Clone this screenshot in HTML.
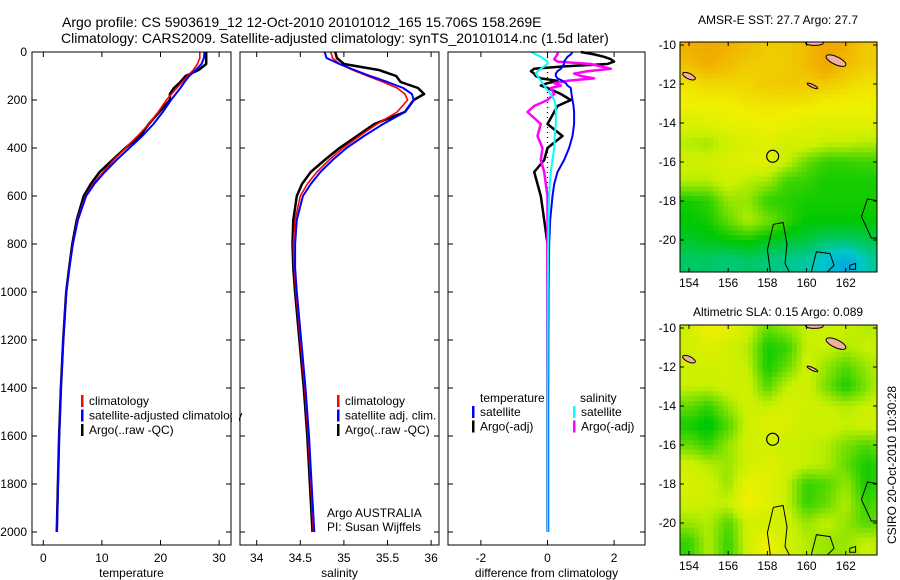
<!DOCTYPE html>
<html><head><meta charset="utf-8"><style>
body{margin:0;background:#fff;}
svg{display:block;font-family:"Liberation Sans",sans-serif;}
</style></head><body>
<svg id="fig" width="900" height="580" viewBox="0 0 900 580">
<text x="62" y="27" font-size="14">Argo profile: CS 5903619_12 12-Oct-2010 20101012_165 15.706S 158.269E</text>
<text x="61" y="43" font-size="14">Climatology: CARS2009. Satellite-adjusted climatology: synTS_20101014.nc (1.5d later)</text>
<text x="778" y="24" font-size="12" text-anchor="middle">AMSR-E SST: 27.7 Argo: 27.7</text>
<text x="778" y="316" font-size="12" text-anchor="middle">Altimetric SLA: 0.15 Argo: 0.089</text>
<text x="0" y="0" font-size="12" text-anchor="middle" transform="translate(896,465) rotate(-90)">CSIRO 20-Oct-2010 10:30:28</text>
</svg>
<script>
// ---- profile data ----
const depths = [0,25,50,75,100,125,150,175,200,250,300,350,400,450,500,550,600,700,800,900,1000,1200,1400,1600,1800,2000];
const tempClim = [26.7,26.7,26.3,25.6,24.6,23.7,22.8,21.9,21.0,19.6,18.0,16.1,14.0,12.0,10.2,8.5,7.2,5.8,5.0,4.4,3.9,3.4,3.0,2.7,2.5,2.3];
const tempSat = [27.5,27.4,27.0,26.0,24.9,24.1,23.4,22.6,21.8,20.4,18.8,16.9,14.7,12.5,10.5,8.7,7.3,5.9,5.05,4.45,3.92,3.42,3.02,2.72,2.52,2.32];
const tempArgo = [27.8,27.8,27.8,26.5,24.3,23.4,22.3,21.6,21.6,19.8,18.0,16.5,14.0,11.8,9.6,8.1,6.9,5.7,4.95,4.4,3.9,3.4,3.0,2.7,2.5,2.3];
const salClim = [34.85,34.87,34.95,35.1,35.27,35.45,35.61,35.70,35.73,35.61,35.38,35.18,34.99,34.83,34.69,34.58,34.50,34.44,34.42,34.43,34.45,34.50,34.55,34.59,34.62,34.65];
const salSat = [34.78,34.80,34.95,35.12,35.3,35.5,35.68,35.78,35.80,35.70,35.45,35.23,35.03,34.87,34.73,34.62,34.53,34.46,34.44,34.44,34.46,34.51,34.56,34.6,34.63,34.66];
const salArgo = [34.9,34.92,35.0,35.4,35.6,35.65,35.85,35.92,35.8,35.7,35.35,35.15,34.95,34.78,34.62,34.52,34.46,34.42,34.41,34.42,34.44,34.49,34.54,34.58,34.61,34.64];
const diffDepths = [0,10,20,30,40,50,60,70,80,90,100,110,120,130,140,150,175,200,225,250,300,350,400,450,500,550,600,700,800,1000,1500,2000];
const diffTempSat = [0.75,0.7,0.6,0.55,0.5,0.5,0.45,0.4,0.3,0.25,0.25,0.3,0.45,0.55,0.6,0.7,0.72,0.75,0.78,0.8,0.8,0.75,0.65,0.5,0.3,0.2,0.15,0.08,0.05,0.03,0.02,0.02];
const diffTempArgo = [1.0,1.4,1.7,1.9,2.0,1.8,0.5,-0.4,-0.5,-0.4,-0.35,-0.2,0.3,0.0,-0.2,0.0,0.4,0.7,0.3,0.2,0.0,0.45,0.0,-0.1,-0.4,-0.3,-0.2,-0.1,0.0,0.0,0.0,0.0];
const diffSalSat = [-0.5,-0.35,-0.2,-0.1,0.0,0.0,-0.1,-0.2,-0.3,-0.35,-0.3,-0.25,-0.2,-0.15,-0.1,-0.05,0.1,0.2,0.25,0.25,0.25,0.22,0.2,0.15,0.1,0.07,0.05,0.03,0.02,0.01,0.0,0.0];
const diffSalArgo = [0.3,0.3,0.25,0.2,0.3,1.3,1.6,1.9,1.2,0.8,1.0,1.4,0.6,0.2,0.4,0.1,0.2,0.0,-0.4,-0.6,-0.2,-0.3,-0.15,-0.2,-0.1,-0.05,0.0,0.0,0.0,0.0,0.0,0.0];
const depthTicks = [0,200,400,600,800,1000,1200,1400,1600,1800,2000];
const tempTicks = [0,10,20,30];
const salTicks = [34,34.5,35,35.5,36];
const diffTicks = [-2,0,2];
// ---- map data (rows lat -10..-21, cols lon 154..164) ----
const mapLats = [-10,-11,-12,-13,-14,-15,-16,-17,-18,-19,-20,-21];
const mapLons = [154,155,156,157,158,159,160,161,162,163,164];
const sstGrid = [
[.80,.82,.80,.78,.76,.76,.78,.82,.80,.76,.76],
[.78,.80,.78,.76,.75,.76,.78,.82,.78,.76,.75],
[.72,.74,.74,.74,.76,.76,.76,.76,.74,.72,.72],
[.70,.70,.70,.72,.72,.72,.72,.70,.70,.70,.70],
[.64,.66,.68,.68,.70,.68,.66,.66,.66,.66,.66],
[.58,.56,.62,.64,.66,.62,.64,.60,.60,.58,.58],
[.62,.62,.64,.66,.66,.60,.50,.45,.45,.46,.46],
[.58,.58,.62,.58,.56,.46,.45,.42,.42,.42,.42],
[.42,.44,.55,.55,.45,.44,.42,.42,.42,.42,.42],
[.40,.42,.50,.58,.52,.45,.40,.40,.40,.40,.40],
[.36,.38,.40,.42,.38,.36,.34,.30,.30,.32,.34],
[.30,.30,.28,.30,.28,.26,.24,.18,.12,.22,.28]];
const slaGrid = [
[.62,.70,.68,.62,.50,.55,.60,.62,.60,.58,.58],
[.62,.65,.62,.58,.42,.45,.60,.60,.58,.60,.60],
[.62,.62,.62,.60,.42,.50,.62,.55,.48,.55,.60],
[.60,.60,.62,.62,.48,.60,.62,.52,.42,.52,.62],
[.50,.45,.55,.62,.60,.64,.62,.60,.58,.60,.62],
[.42,.38,.48,.62,.66,.64,.60,.62,.60,.62,.62],
[.50,.45,.55,.62,.62,.60,.60,.58,.52,.48,.52],
[.62,.58,.55,.62,.66,.62,.60,.58,.50,.42,.45],
[.64,.62,.55,.68,.66,.60,.45,.48,.55,.42,.45],
[.62,.60,.60,.70,.66,.60,.45,.50,.58,.45,.50],
[.55,.58,.48,.62,.62,.62,.55,.60,.55,.48,.52],
[.45,.58,.45,.62,.70,.62,.58,.55,.55,.60,.58]];
const lonTicks = [154,156,158,160,162];
const latTicks = [-10,-12,-14,-16,-18,-20];
const argoLon = 158.269, argoLat = -15.706;

const NS='http://www.w3.org/2000/svg';
const svg=document.getElementById('fig');
function mk(tag,attrs,parent){const e=document.createElementNS(NS,tag);for(const k in attrs)e.setAttribute(k,attrs[k]);(parent||svg).appendChild(e);return e;}
const yD = d => 52 + d*0.24;
const PB = 545;

function panel(name,x0,x1,xs,ticks,fmt,label,showY){
  const g=mk('g',{});
  
  
  ticks.forEach(t=>{
    const x=xs(t);
    mk('line',{x1:x,x2:x,y1:52,y2:57,stroke:'#000'},g);
    mk('line',{x1:x,x2:x,y1:PB,y2:PB-5,stroke:'#000'},g);
    const tl=mk('text',{x:x,y:562,'font-size':12,'text-anchor':'middle'},g);
    tl.textContent=fmt(t);
    
    
  });
  depthTicks.forEach(d=>{
    const y=yD(d);
    mk('line',{x1:x0,x2:x0+5,y1:y,y2:y,stroke:'#000'},g);
    mk('line',{x1:x1,x2:x1-5,y1:y,y2:y,stroke:'#000'},g);
    if(showY){const tl=mk('text',{x:27,y:y+4,'font-size':12,'text-anchor':'end'},g);tl.textContent=d;
      
      }
  });
  const at=mk('text',{x:(x0+x1)/2,y:577,'font-size':12,'text-anchor':'middle'},g);
  at.textContent=label;
  
  
  return g;
}
function line(g,ds,vals,xs,color,w,name){
  const p=vals.map((v,i)=>(i?'L':'M')+xs(v).toFixed(1)+','+yD(ds[i]).toFixed(1)).join('');
  const e=mk('path',{d:p,fill:'none',stroke:color,'stroke-width':w,'stroke-linejoin':'round'},g);
  
  
}
function frame(g,x0,x1){mk('rect',{x:x0,y:52,width:x1-x0,height:PB-52,fill:'none',stroke:'#000','stroke-width':1},g);}
function legend(g,x,y,items){
  items.forEach((it,i)=>{
    const yy=y+i*14.5;
    mk('rect',{x:x,y:yy-10,width:2.5,height:12,fill:it[1]},g);
    const t=mk('text',{x:x+8,y:yy,'font-size':12},g);t.textContent=it[0];
    
    
  });
}
// Panel 1 temperature
const xT=v=>43.3+v*5.86;
let g1=panel('temperature-panel',32,231,xT,tempTicks,t=>t,'temperature',true);
line(g1,depths,tempArgo,xT,'#000',2.5,'argo-temperature-line');
line(g1,depths,tempClim,xT,'#f00',1.6,'climatology-temperature-line');
line(g1,depths,tempSat,xT,'#00f',2,'satellite-temperature-line');
frame(g1,32,231);
legend(g1,81,405,[['climatology','#f00'],['satellite-adjusted climatology','#00f'],['Argo(..raw -QC)','#000']]);
mk('rect',{x:232,y:380,width:7,height:50,fill:'#fff'});
// Panel 2 salinity
const xS=v=>256.7+(v-34)*87.2;
let g2=panel('salinity-panel',240,439,xS,salTicks,t=>t,'salinity',false);
line(g2,depths,salArgo,xS,'#000',2.5,'argo-salinity-line');
line(g2,depths,salClim,xS,'#f00',1.6,'climatology-salinity-line');
line(g2,depths,salSat,xS,'#00f',2,'satellite-salinity-line');
frame(g2,240,439);
legend(g2,337,405,[['climatology','#f00'],['satellite adj. clim.','#00f'],['Argo(..raw -QC)','#000']]);
const ta=mk('text',{x:327,y:517,'font-size':12},g2);ta.textContent='Argo AUSTRALIA';
const tp=mk('text',{x:327,y:531,'font-size':12},g2);tp.textContent='PI: Susan Wijffels';
// Panel 3 difference
const xDf=v=>547.5+v*33.3;
let g3=panel('difference-panel',448,645,xDf,diffTicks,t=>t,'difference from climatology',false);
mk('line',{x1:xDf(0),x2:xDf(0),y1:52,y2:500,stroke:'#000','stroke-width':1.2,'stroke-dasharray':'1,4'},g3);
line(g3,diffDepths,diffTempArgo,xDf,'#000',2.5,'argo-temperature-diff-line');
line(g3,diffDepths,diffSalArgo,xDf,'#f0f',2.5,'argo-salinity-diff-line');
line(g3,diffDepths,diffTempSat,xDf,'#00f',2,'satellite-temperature-diff-line');
line(g3,diffDepths,diffSalSat,xDf,'#0ff',2,'satellite-salinity-diff-line');
frame(g3,448,645);
const lt=mk('text',{x:480,y:402,'font-size':12},g3);lt.textContent='temperature';
const ls=mk('text',{x:580,y:402,'font-size':12},g3);ls.textContent='salinity';
legend(g3,472,416,[['satellite','#00f'],['Argo(-adj)','#000']]);
legend(g3,573,416,[['satellite','#0ff'],['Argo(-adj)','#f0f']]);

// ---- maps ----
const stops=[[0,[0,128,255]],[0.2,[0,200,200]],[0.4,[0,200,0]],[0.6,[200,240,0]],[0.7,[240,240,0]],[0.8,[240,176,0]],[0.9,[240,128,0]],[1,[192,0,0]]];
function cmap(v){for(let i=1;i<stops.length;i++){if(v<=stops[i][0]){const a=stops[i-1],b=stops[i],f=(v-a[0])/(b[0]-a[0]);const c=a[1].map((x,k)=>Math.round(x+(b[1][k]-x)*f));return 'rgb('+c.join(',')+')';}}return 'rgb(192,0,0)';}
function sample(grid,fr,fc){
  fr=Math.max(0,Math.min(grid.length-1,fr));fc=Math.max(0,Math.min(grid[0].length-1,fc));
  const r0=Math.floor(fr),c0=Math.floor(fc),r1=Math.min(r0+1,grid.length-1),c1=Math.min(c0+1,grid[0].length-1);
  const a=fr-r0,b=fc-c0;
  return grid[r0][c0]*(1-a)*(1-b)+grid[r0][c1]*(1-a)*b+grid[r1][c0]*a*(1-b)+grid[r1][c1]*a*b;
}
function drawMap(name,top,grid){
  const L=680,R=877,T=top,B=top+230;
  const lat10y=top+3;
  const xL=lon=>689+(lon-154)*19.6;
  const yL=lat=>lat10y+(-10-lat)*19.5;
  const g=mk('g',{});
  
  
  const cid='clip'+top;
  const cp=mk('clipPath',{id:cid},g);mk('rect',{x:L,y:T,width:R-L,height:B-T},cp);
  const cg=mk('g',{'clip-path':'url(#'+cid+')'},g);
  const step=0.25;
  for(let lat=-9.75;lat>-22;lat-=step){
    for(let lon=153.5;lon<164;lon+=step){
      const fr=(mapLats[0]-(lat-step/2));const fc=(lon+step/2-mapLons[0]);
      const v=sample(grid,fr,fc);
      mk('rect',{x:xL(lon).toFixed(1),y:yL(lat).toFixed(1),width:19.6*step+0.6,height:19.5*step+0.6,fill:cmap(v)},cg);
    }
  }
  // islands
  [[161.5,-10.8,0.55,0.2,25],[160.4,-9.9,0.45,0.12,0],[154.0,-11.6,0.35,0.14,25],[160.3,-12.1,0.3,0.07,25]].forEach(s=>{
    mk('ellipse',{cx:xL(s[0]),cy:yL(s[1]),rx:s[2]*19.6,ry:s[3]*19.5,fill:'#f0b0a0',stroke:'#000','stroke-width':1,transform:'rotate('+s[4]+' '+xL(s[0])+' '+yL(s[1])+')'},cg);
  });
  // bathymetry contours
  const contours=[[[158.2,-22],[158.0,-20.5],[158.3,-19.2],[158.8,-19.1],[159.0,-20.2],[158.9,-21.2],[159.3,-22]],
    [[160.2,-21.8],[160.5,-20.6],[161.2,-20.7],[161.4,-21.3],[161.0,-21.7]],
    [[163.7,-18.0],[163.1,-17.9],[162.8,-18.8],[163.3,-19.9],[163.7,-19.9]],
    [[162.2,-21.3],[162.5,-21.2],[162.5,-21.5],[162.2,-21.5],[162.2,-21.3]]];
  contours.forEach(c=>{const p=c.map((q,i)=>(i?'L':'M')+xL(q[0]).toFixed(1)+','+yL(q[1]).toFixed(1)).join('');
    mk('path',{d:p,fill:'none',stroke:'#000','stroke-width':1},cg);});
  const mc=mk('circle',{cx:xL(argoLon),cy:yL(argoLat),r:6,fill:'none',stroke:'#000','stroke-width':1.2},g);
  
  
  mk('rect',{x:L,y:T,width:R-L,height:B-T,fill:'none',stroke:'#000'},g);
  lonTicks.forEach(lo=>{const x=xL(lo);
    mk('line',{x1:x,x2:x,y1:T,y2:T+4,stroke:'#000'},g);mk('line',{x1:x,x2:x,y1:B,y2:B-4,stroke:'#000'},g);
    const t=mk('text',{x:x,y:B+15,'font-size':12,'text-anchor':'middle'},g);t.textContent=lo;
    
    });
  latTicks.forEach(la=>{const y=yL(la);
    mk('line',{x1:L,x2:L+4,y1:y,y2:y,stroke:'#000'},g);mk('line',{x1:R,x2:R-4,y1:y,y2:y,stroke:'#000'},g);
    const t=mk('text',{x:L-4,y:y+4,'font-size':12,'text-anchor':'end'},g);t.textContent=la;
    
    });
}
drawMap('sst-map',42,sstGrid);
drawMap('sla-map',325,slaGrid);
</script>
</body></html>
